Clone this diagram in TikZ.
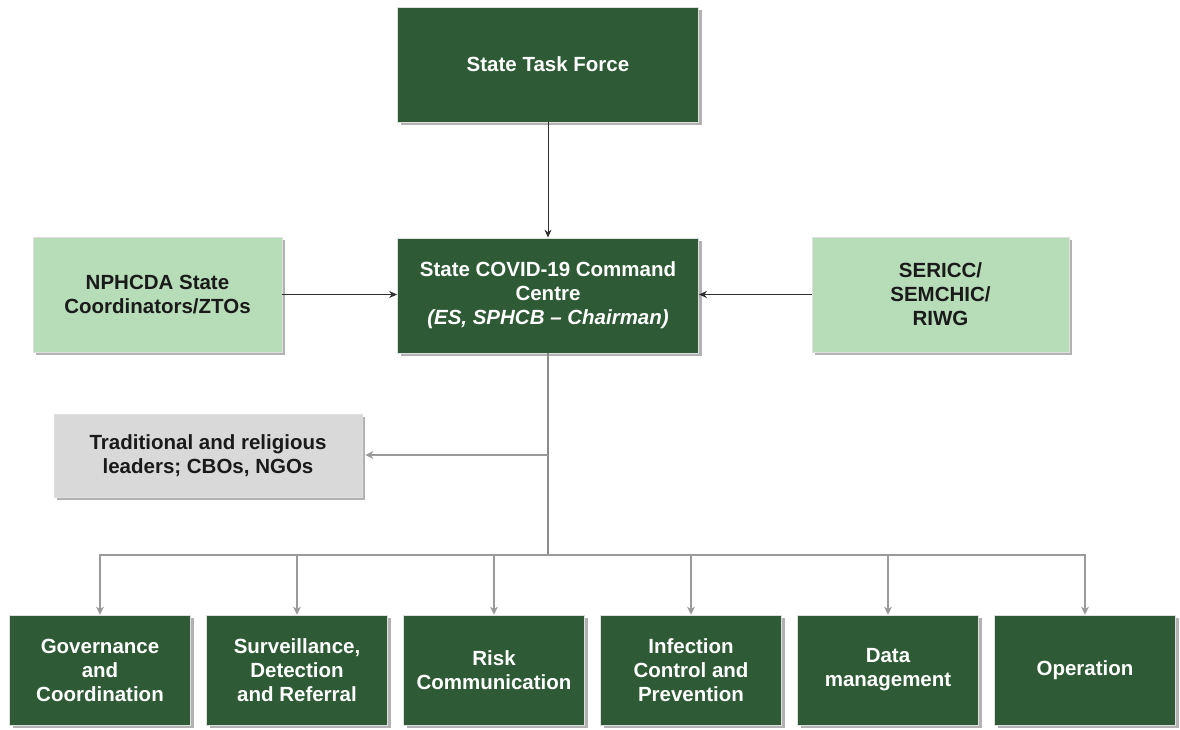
\documentclass[tikz,border=0pt]{standalone}
\usepackage{fontspec}
\setmainfont{Liberation Sans}
\usetikzlibrary{arrows.meta,shadows}
\definecolor{dkgreen}{HTML}{2E5B35}
\definecolor{ltgreen}{HTML}{B6DDB8}
\definecolor{ltgrey}{HTML}{D9D9D9}
\definecolor{linegrey}{HTML}{9A9A9A}
\definecolor{midgrey}{HTML}{8A8A8A}
\definecolor{darkline}{HTML}{303030}
\definecolor{txtdark}{HTML}{1A1A1A}
\tikzset{
  boxbase/.style={rectangle, draw=white!75!gray, line width=0.8pt, align=center,
    font=\bfseries\fontsize{20.5}{24}\selectfont,
    drop shadow={shadow xshift=3pt, shadow yshift=-3pt, fill=black, opacity=0.3}},
  darkbox/.style={boxbase, fill=dkgreen, text=white},
  lightbox/.style={boxbase, fill=ltgreen, text=txtdark},
  greybox/.style={boxbase, fill=ltgrey, text=txtdark},
  mainarrow/.style={draw=darkline, line width=1pt, -{Stealth[length=8pt,width=7pt]}},
  greyline/.style={draw=midgrey, line width=1.5pt},
  greyarrow/.style={draw=linegrey, line width=1.3pt, -{Stealth[length=8pt,width=8pt]}}
}
\begin{document}
\begin{tikzpicture}[x=1pt,y=1pt]
\useasboundingbox (0,0) rectangle (1180,-729);
\fill[white] (0,0) rectangle (1180,-729);

\node[darkbox, minimum width=301pt, minimum height=115pt] (top) at (548,-64.5) {State Task Force};
\node[darkbox, minimum width=301pt, minimum height=115pt] (cc) at (548,-295.5)
  {State COVID-19 Command\\Centre\\\textit{(ES, SPHCB -- Chairman)}};
\node[lightbox, minimum width=249pt, minimum height=115pt] (np) at (157.5,-294.5)
  {NPHCDA State\\Coordinators/ZTOs};
\node[lightbox, minimum width=257pt, minimum height=115pt] (se) at (940.5,-294.5)
  {SERICC/\\SEMCHIC/\\RIWG};
\node[greybox, minimum width=308pt, minimum height=83pt] (tr) at (208,-455.5)
  {Traditional and religious\\leaders; CBOs, NGOs};

\foreach \i/\x/\t in {1/100/{Governance\\and\\Coordination},
                      2/297/{Surveillance,\\Detection\\and Referral},
                      3/494/{Risk\\Communication},
                      4/691/{Infection\\Control and\\Prevention},
                      5/888/{Data\\management},
                      6/1085/{Operation}}{
  \node[darkbox, minimum width=181pt, minimum height=110pt] (b\i) at (\x,-670) {\t};
}

\coordinate (tap) at (548,-455);
\coordinate (bus) at (548,-555);

\draw[mainarrow] (top.south) -- (cc.north);
\draw[mainarrow] (np.east) -- (cc.west |- np.east);
\draw[mainarrow] (se.west) -- (cc.east |- se.west);
\draw[greyline] (cc.south) -- (bus);
\draw[greyarrow, shorten >=3pt] (tap) -- (tr.east |- tap);
\foreach \i in {1,...,6}{
  \draw[greyarrow] (bus) -| (b\i.north);
}
\end{tikzpicture}
\end{document}
